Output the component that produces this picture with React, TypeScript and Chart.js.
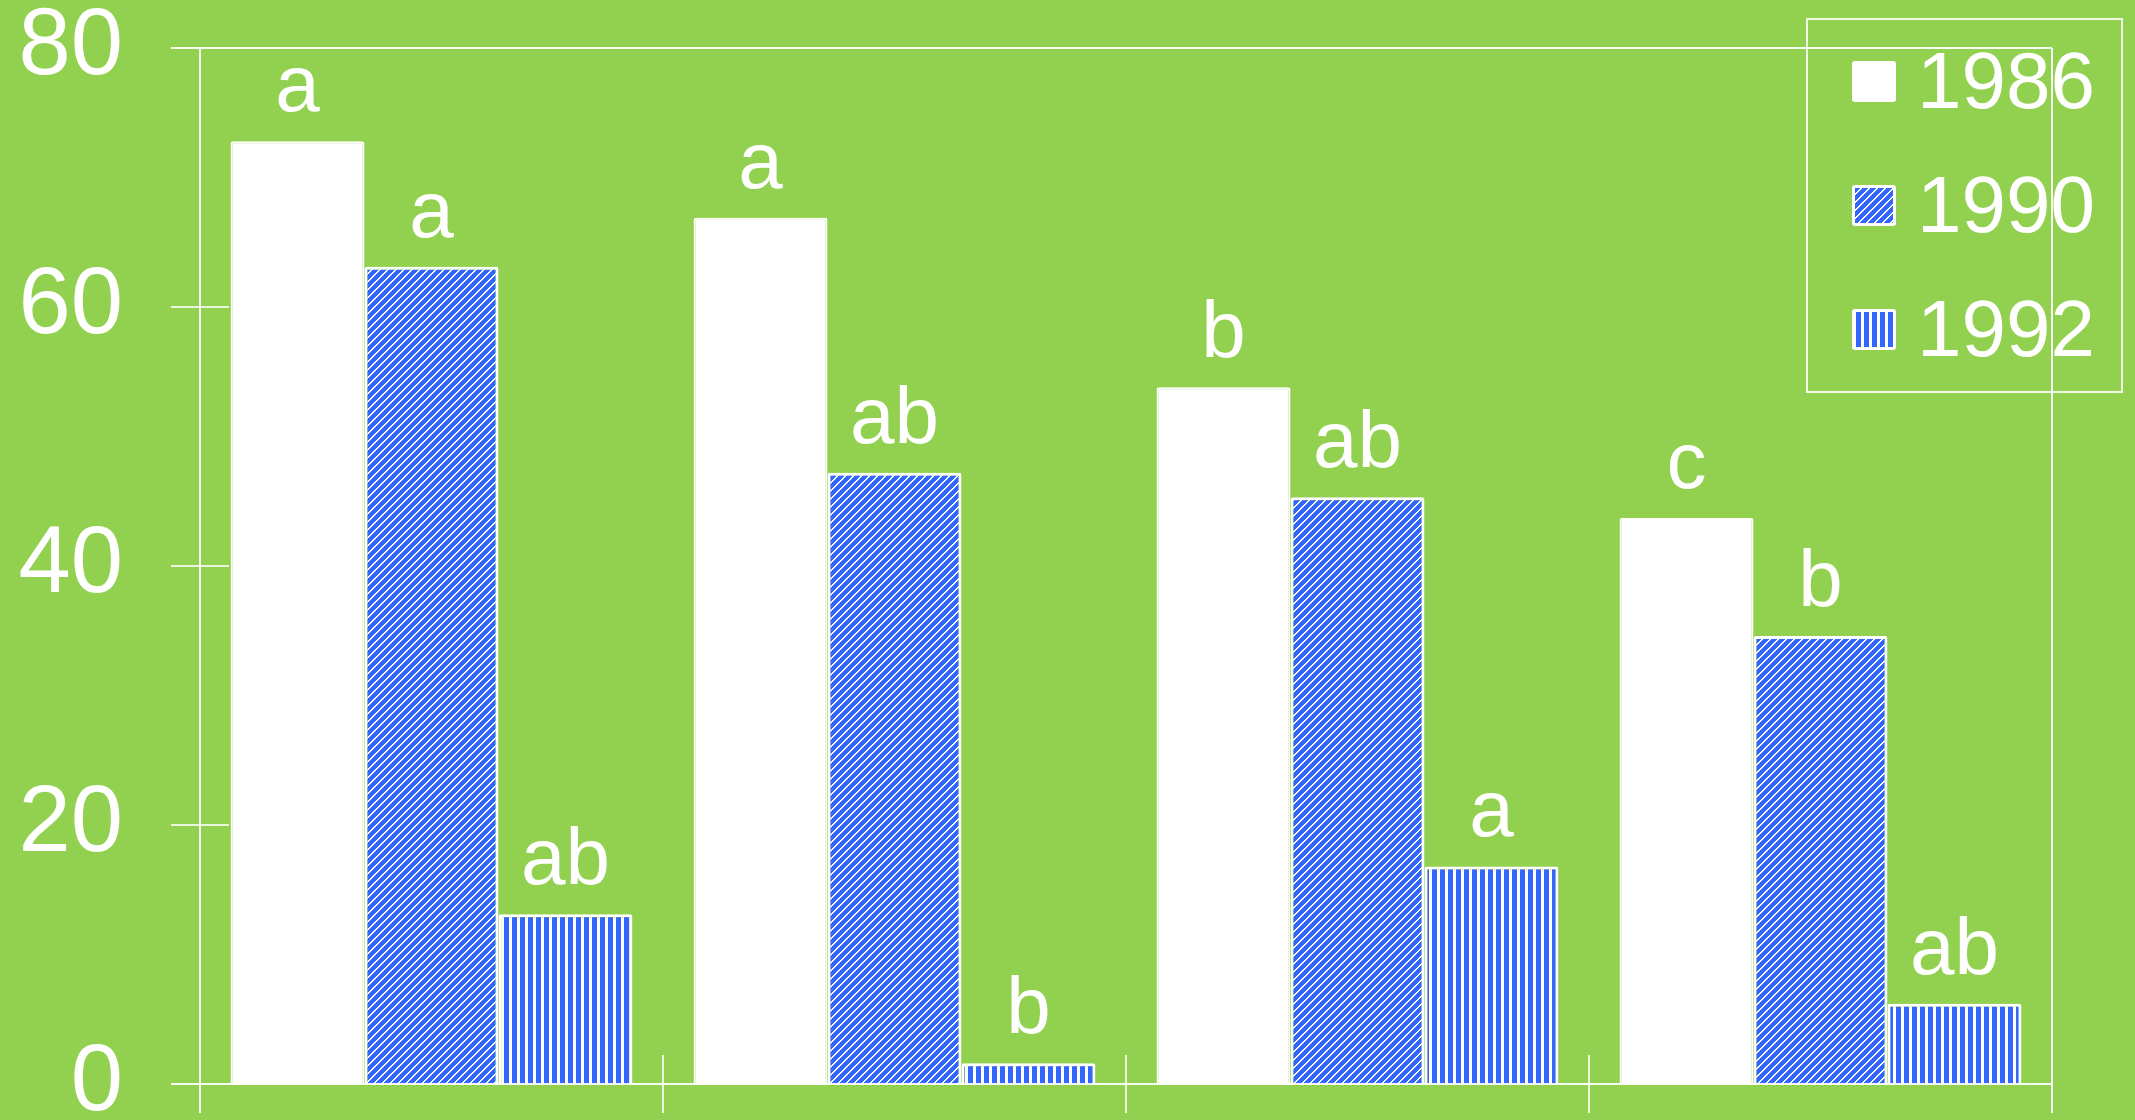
import React, { useEffect, useRef } from "react";
import { Chart, registerables } from "chart.js";

Chart.register(...registerables);

// ---- data ----
const categories = ["I", "II", "III", "IV"];
const seriesNames = ["1986", "1990", "1992"];
const values1986 = [72.8, 66.9, 53.8, 43.7];
const values1990 = [63.1, 47.2, 45.3, 34.6];
const values1992 = [13.1, 1.6, 16.8, 6.2];
const letters1986 = ["a", "a", "b", "c"];
const letters1990 = ["a", "ab", "ab", "b"];
const letters1992 = ["ab", "b", "a", "ab"];
const yMin = 0;
const yMax = 80;
const yStep = 20;

const FONT = "'Liberation Sans', Arial, Helvetica, sans-serif";
const BG = "#92D050";
const BLUE = [51, 102, 255];

function makePattern(w: number, h: number, isWhite: (x: number, y: number) => boolean) {
  const c = document.createElement("canvas");
  c.width = w;
  c.height = h;
  const cx = c.getContext("2d")!;
  const img = cx.createImageData(w, h);
  for (let y = 0; y < h; y++) {
    for (let x = 0; x < w; x++) {
      const i = (y * w + x) * 4;
      const wht = isWhite(x, y);
      img.data[i] = wht ? 255 : BLUE[0];
      img.data[i + 1] = wht ? 255 : BLUE[1];
      img.data[i + 2] = wht ? 255 : BLUE[2];
      img.data[i + 3] = 255;
    }
  }
  cx.putImageData(img, 0, 0);
  return cx.createPattern(c, "repeat")!;
}

const framePlugin = {
  id: "frame",
  afterDatasetsDraw(chart: any) {
    const { ctx, chartArea: ca } = chart;
    const ys = chart.scales.y;
    const xs = chart.scales.x;
    const tl = 29;
    const top = Math.round(ys.getPixelForValue(yMax));
    const bottom = Math.round(ys.getPixelForValue(yMin));
    const left = Math.round(ca.left);
    const right = Math.round(ca.right);
    ctx.save();
    ctx.strokeStyle = "rgba(255,255,255,0.92)";
    ctx.lineWidth = 2;
    ctx.beginPath();
    ctx.moveTo(left - tl, top);
    ctx.lineTo(right, top);
    ctx.moveTo(left - tl, bottom);
    ctx.lineTo(right, bottom);
    ctx.moveTo(left, top);
    ctx.lineTo(left, bottom + tl);
    ctx.moveTo(right, top);
    ctx.lineTo(right, bottom + tl);
    ctx.stroke();
    ctx.strokeStyle = "rgba(255,255,255,0.8)";
    ctx.beginPath();
    for (let v = yMin + yStep; v < yMax; v += yStep) {
      const y = Math.round(ys.getPixelForValue(v));
      ctx.moveTo(left - tl, y);
      ctx.lineTo(left + tl, y);
    }
    for (let i = 0; i < categories.length - 1; i++) {
      const x = Math.round((xs.getPixelForValue(i) + xs.getPixelForValue(i + 1)) / 2);
      ctx.moveTo(x, bottom - tl);
      ctx.lineTo(x, bottom + tl);
    }
    ctx.stroke();
    ctx.restore();
  },
};

const letterSets = [letters1986, letters1990, letters1992];

const labelPlugin = {
  id: "letters",
  afterDatasetsDraw(chart: any) {
    const { ctx } = chart;
    ctx.save();
    ctx.fillStyle = "#ffffff";
    ctx.font = `80px ${FONT}`;
    ctx.textAlign = "center";
    ctx.textBaseline = "alphabetic";
    chart.data.datasets.forEach((_: any, i: number) => {
      const meta = chart.getDatasetMeta(i);
      meta.data.forEach((bar: any, j: number) => {
        ctx.fillText(letterSets[i][j], bar.x, bar.y - 30);
      });
    });
    ctx.restore();
  },
};

const legendPlugin = {
  id: "customLegend",
  afterDraw(chart: any) {
    const { ctx } = chart;
    ctx.save();
    ctx.strokeStyle = "rgba(255,255,255,0.85)";
    ctx.lineWidth = 2;
    ctx.strokeRect(1807, 19, 315, 373);
    ctx.font = `80px ${FONT}`;
    ctx.textAlign = "left";
    ctx.textBaseline = "alphabetic";
    const baselines = [108, 232, 356];
    chart.data.datasets.forEach((ds: any, i: number) => {
      const sy = baselines[i] - 47;
      ctx.fillStyle = "#ffffff";
      ctx.beginPath();
      ctx.roundRect(1852, sy, 44, 41, 3);
      ctx.fill();
      ctx.fillStyle = ds.backgroundColor;
      ctx.fillRect(1855, sy + 3, 38, 35);
      ctx.fillStyle = "#ffffff";
      ctx.fillText(ds.label, 1917, baselines[i]);
    });
    ctx.restore();
  },
};

export default function App() {
  const ref = useRef<HTMLCanvasElement>(null);
  useEffect(() => {
    document.body.style.margin = "0";
    const canvas = ref.current!;
    const diag = makePattern(8, 8, (x, y) => (x + y) % 8 < 2);
    const vert = makePattern(8, 2, (x) => x >= 5);
    const chart = new Chart(canvas, {
      type: "bar",
      data: {
        labels: categories,
        datasets: [
          { label: seriesNames[0], data: values1986, backgroundColor: "#ffffff", borderColor: "#ffffff", borderWidth: 2, borderRadius: 2 },
          { label: seriesNames[1], data: values1990, backgroundColor: diag as any, borderColor: "#ffffff", borderWidth: 3, borderRadius: 2 },
          { label: seriesNames[2], data: values1992, backgroundColor: vert as any, borderColor: "#ffffff", borderWidth: 3, borderRadius: 2 },
        ],
      },
      options: {
        responsive: false,
        animation: false,
        devicePixelRatio: 1,
        layout: { padding: { top: 48, right: 83, bottom: 36, left: 0 } },
        datasets: { bar: { categoryPercentage: 0.868, barPercentage: 1 } },
        plugins: {
          legend: { display: false },
          tooltip: { enabled: false },
        },
        scales: {
          x: { display: false },
          y: {
            min: yMin,
            max: yMax,
            ticks: {
              stepSize: yStep,
              color: "#ffffff",
              font: { family: FONT, size: 94, lineHeight: 0.7 },
              padding: 0,
            },
            grid: { display: false, drawTicks: true, tickLength: 77 },
            border: { display: false },
            afterFit: (s: any) => {
              s.width = 200;
            },
          },
        },
      },
      plugins: [framePlugin, labelPlugin, legendPlugin],
    });
    return () => chart.destroy();
  }, []);
  return (
    <div style={{ position: "fixed", left: 0, top: 0, width: 2135, height: 1120, background: BG, overflow: "hidden" }}>
      <canvas ref={ref} width={2135} height={1120} style={{ width: 2135, height: 1120, display: "block" }} />
    </div>
  );
}
